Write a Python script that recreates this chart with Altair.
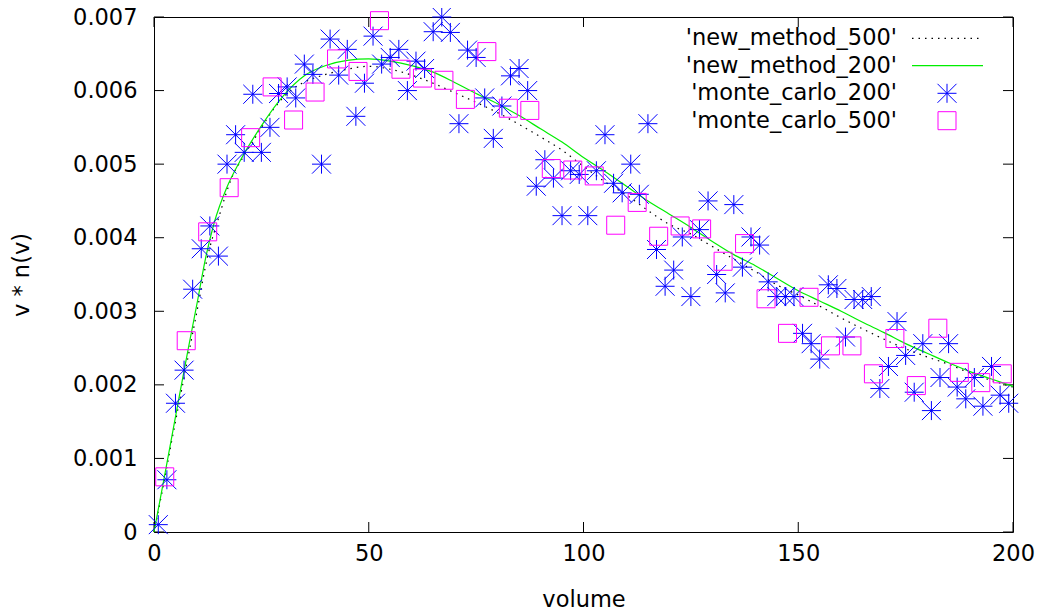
import altair as alt
import pandas as pd

# ---------------- data ----------------
mc200_v = [1, 3, 5, 7, 9, 11, 13, 15, 17, 19, 21, 23, 25, 27, 29, 31, 33, 35, 37, 39,
           41, 43, 45, 47, 49, 51, 53, 55, 57, 59, 61, 63, 65, 67, 69, 71, 73, 75, 77, 79,
           81, 83, 85, 87, 89, 91, 93, 95, 97, 99, 101, 103, 105, 107, 109, 111, 113, 115, 117, 119,
           121, 123, 125, 127, 129, 131, 133, 135, 137, 139, 141, 143, 145, 147, 149, 151, 153, 155, 157, 159,
           161, 163, 165, 167, 169, 171, 173, 175, 177, 179, 181, 183, 185, 187, 189, 191, 193, 195, 197, 199]
mc200_y = [0.0001, 0.00071, 0.00175, 0.0022, 0.0033, 0.00385, 0.00416, 0.00375, 0.0050, 0.0054,
           0.00516, 0.00595, 0.00516, 0.0055, 0.00596, 0.00605, 0.0059, 0.00636, 0.00622, 0.0050,
           0.0067, 0.00621, 0.00656, 0.00565, 0.0061, 0.00674, 0.00636, 0.00645, 0.00656, 0.0060,
           0.0064, 0.0063, 0.0068, 0.0070, 0.00679, 0.00555, 0.00655, 0.00645, 0.0059, 0.00535,
           0.00579, 0.0062, 0.0063, 0.0060, 0.0047, 0.00506, 0.00481, 0.0043, 0.00491, 0.00486,
           0.0043, 0.00491, 0.0054, 0.00474, 0.00461, 0.0050, 0.00459, 0.00555, 0.00384, 0.00334,
           0.00356, 0.00401, 0.0032, 0.00411, 0.0045, 0.0035, 0.00325, 0.00445, 0.0036, 0.00401,
           0.0039, 0.0034, 0.0032, 0.0032, 0.0032, 0.0027, 0.00256, 0.00235, 0.00336, 0.00331,
           0.00265, 0.00316, 0.00316, 0.0032, 0.00195, 0.00225, 0.00286, 0.0024, 0.0019, 0.00256,
           0.00165, 0.0021, 0.00256, 0.00197, 0.00181, 0.0021, 0.00171, 0.00225, 0.00186, 0.00175]

mc500_v = [2.5, 7.5, 12.5, 17.5, 22.5, 27.5, 32.5, 37.5, 42.5, 47.5,
           52.5, 57.5, 62.5, 67.5, 72.5, 77.5, 82.5, 87.5, 92.5, 97.5,
           102.5, 107.5, 112.5, 117.5, 122.5, 127.5, 132.5, 137.5, 142.5, 147.5,
           152.5, 157.5, 162.5, 167.5, 172.5, 177.5, 182.5, 187.5, 192.5, 197.5]
mc500_y = [0.00075, 0.0026, 0.00408, 0.00468, 0.00536, 0.00605, 0.0056, 0.00598, 0.00643, 0.00626,
           0.00695, 0.00629, 0.00617, 0.00614, 0.00588, 0.00653, 0.00576, 0.00573, 0.00494, 0.00492,
           0.00484, 0.00417, 0.00448, 0.00402, 0.00416, 0.00412, 0.00368, 0.00392, 0.00317, 0.0027,
           0.00319, 0.00253, 0.00253, 0.00215, 0.00263, 0.00199, 0.00277, 0.00217, 0.00203, 0.00215]

nm200_v = [0, 2, 4, 6, 8, 10, 12, 14, 17, 20, 25, 30, 35, 40, 45, 50, 55, 60, 65, 70,
           75, 80, 85, 90, 95, 100, 105, 110, 115, 120, 125, 130, 135, 140, 145, 150,
           155, 160, 165, 170, 175, 180, 185, 190, 195, 200]
nm200_y = [0, 0.00062, 0.00125, 0.00188, 0.0025, 0.0031, 0.00372, 0.0042, 0.00469, 0.00504,
           0.00552, 0.00592, 0.0062, 0.00634, 0.00641, 0.00643, 0.0064, 0.00634, 0.00625, 0.00611,
           0.00596, 0.00582, 0.00566, 0.00548, 0.0053, 0.00509, 0.0049, 0.0047, 0.0045, 0.00432,
           0.00414, 0.00395, 0.00377, 0.00362, 0.00345, 0.00328, 0.00314, 0.003, 0.00285, 0.00271,
           0.00256, 0.00243, 0.0023, 0.00218, 0.00208, 0.00198]

nm500_v = [0, 2, 4, 6, 8, 10, 12.5, 15, 18, 21, 24, 28, 32, 36, 40, 45, 50, 55, 60, 65,
           70, 75, 80, 85, 90, 95, 100, 105, 110, 115, 120, 125, 130, 135, 140, 145,
           150, 155, 160, 165, 170, 175, 180, 185, 190, 195, 200]
nm500_y = [0, 0.00058, 0.0012, 0.0018, 0.0024, 0.003, 0.00375, 0.00426, 0.0048, 0.00512,
           0.0054, 0.00576, 0.00601, 0.00614, 0.00622, 0.00629, 0.00633, 0.00629, 0.00621, 0.0061,
           0.00597, 0.00584, 0.0057, 0.00554, 0.00537, 0.00519, 0.00497, 0.00476, 0.00458, 0.00437,
           0.00418, 0.00405, 0.00388, 0.00371, 0.00354, 0.00336, 0.00322, 0.00307, 0.00291, 0.00276,
           0.00262, 0.00249, 0.00238, 0.00228, 0.00216, 0.00206, 0.00197]

x_ticks = [0, 50, 100, 150, 200]
y_ticks = [0, 0.001, 0.002, 0.003, 0.004, 0.005, 0.006, 0.007]
legend_labels = ["'new_method_500'", "'new_method_200'", "'monte_carlo_200'", "'monte_carlo_500'"]

# ---------------- styling ----------------
W, H = 859, 515
TOP = 9
FONT = "DejaVu Sans"
FS = 22.5
STAR = "M-1,0H1M0,-1V1M-1,-1L1,1M-1,1L1,-1"
SQUARE = "M-1,-1H1V1H-1Z"
BLUE = "#0000ff"
MAGENTA = "#ff00ff"
GREEN = "#00ee00"
DOT = [1.5, 5]

xs = alt.Scale(domain=[0, 200], nice=False, zero=False)
ys = alt.Scale(domain=[0, 0.007], nice=False, zero=True)

x_axis = alt.Axis(values=x_ticks, ticks=False, domain=False, grid=False,
                  labelFont=FONT, labelFontSize=FS, labelColor="black",
                  labelPadding=10, labelAngle=0, labelFlush=False, labelOverlap=False,
                  title="volume", titleFont=FONT, titleFontSize=FS,
                  titleFontWeight="normal", titleColor="black",
                  titleY=67, titleBaseline="middle")
y_axis = alt.Axis(values=y_ticks, format="~g", ticks=False, domain=False, grid=False,
                  labelFont=FONT, labelFontSize=FS, labelColor="black",
                  labelPadding=17, labelFlush=False, labelOverlap=False,
                  labelBaseline="middle",
                  title="v * n(v)", titleFont=FONT, titleFontSize=FS,
                  titleFontWeight="normal", titleColor="black",
                  titleX=-133, titleY=H / 2, titleAngle=270,
                  titleAlign="center", titleBaseline="middle")


def X(f):
    return alt.X(f, type="quantitative", scale=xs, axis=x_axis)


def Y(f):
    return alt.Y(f, type="quantitative", scale=ys, axis=y_axis)


df_nm500 = pd.DataFrame({"v": nm500_v, "y": nm500_y})
df_nm200 = pd.DataFrame({"v": nm200_v, "y": nm200_y})
df_mc200 = pd.DataFrame({"v": mc200_v, "y": mc200_y})
df_mc500 = pd.DataFrame({"v": mc500_v, "y": mc500_y})
df_xt = pd.DataFrame({"t": x_ticks})
df_yt = pd.DataFrame({"t": y_ticks})

layers = []

# inward ticks on all four sides (gnuplot style)
layers.append(alt.Chart(df_xt).mark_rule(color="black", strokeWidth=1).encode(
    x=X("t"), y=alt.value(H), y2=alt.value(H - 10)))
layers.append(alt.Chart(df_xt).mark_rule(color="black", strokeWidth=1).encode(
    x=X("t"), y=alt.value(0), y2=alt.value(10)))
layers.append(alt.Chart(df_yt).mark_rule(color="black", strokeWidth=1).encode(
    y=Y("t"), x=alt.value(0), x2=alt.value(10)))
layers.append(alt.Chart(df_yt).mark_rule(color="black", strokeWidth=1).encode(
    y=Y("t"), x=alt.value(W), x2=alt.value(W - 10)))

# series
layers.append(alt.Chart(df_nm500).mark_line(color="black", strokeWidth=1.2, strokeDash=DOT,
                                            interpolate="monotone").encode(x=X("v"), y=Y("y")))
layers.append(alt.Chart(df_nm200).mark_line(color=GREEN, strokeWidth=1.2,
                                            interpolate="monotone").encode(x=X("v"), y=Y("y")))
layers.append(alt.Chart(df_mc200).mark_point(shape=STAR, size=361, filled=False, color=BLUE,
                                             strokeWidth=1, opacity=1).encode(x=X("v"), y=Y("y")))
layers.append(alt.Chart(df_mc500).mark_point(shape=SQUARE, size=324, filled=False, color=MAGENTA,
                                             strokeWidth=1, opacity=1).encode(x=X("v"), y=Y("y")))

# legend (gnuplot style: right-aligned labels, samples on the right)
row_y = [v - (TOP - 7) for v in [23.3, 50.7, 78.3, 105.7]]
text_x = 743
for lab, yy in zip(legend_labels, row_y):
    layers.append(alt.Chart(pd.DataFrame({"label": [lab]})).mark_text(
        align="right", baseline="middle", font=FONT, fontSize=FS, color="black").encode(
        text="label:N", x=alt.value(text_x), y=alt.value(yy)))

leg_df = pd.DataFrame({"label": legend_labels[:1]})
layers.append(alt.Chart(leg_df).mark_rule(color="black", strokeWidth=1.2, strokeDash=DOT).encode(
    x=alt.value(758), x2=alt.value(825), y=alt.value(row_y[0])))
layers.append(alt.Chart(leg_df).mark_rule(color=GREEN, strokeWidth=1.2).encode(
    x=alt.value(758), x2=alt.value(829), y=alt.value(row_y[1])))
layers.append(alt.Chart(leg_df).mark_point(shape=STAR, size=361, filled=False, color=BLUE,
                                           strokeWidth=1, opacity=1).encode(
    x=alt.value(793), y=alt.value(row_y[2])))
layers.append(alt.Chart(leg_df).mark_point(shape=SQUARE, size=324, filled=False, color=MAGENTA,
                                           strokeWidth=1, opacity=1).encode(
    x=alt.value(793), y=alt.value(row_y[3])))

chart = alt.layer(*layers).properties(
    width=W, height=H,
    padding={"left": 146, "top": TOP, "right": 25, "bottom": 80},
    autosize=alt.AutoSizeParams(type="none"),
    background="white",
).configure_view(stroke="black", strokeWidth=1)

chart.save("out.html", embed_options={"renderer": "svg", "actions": False})
